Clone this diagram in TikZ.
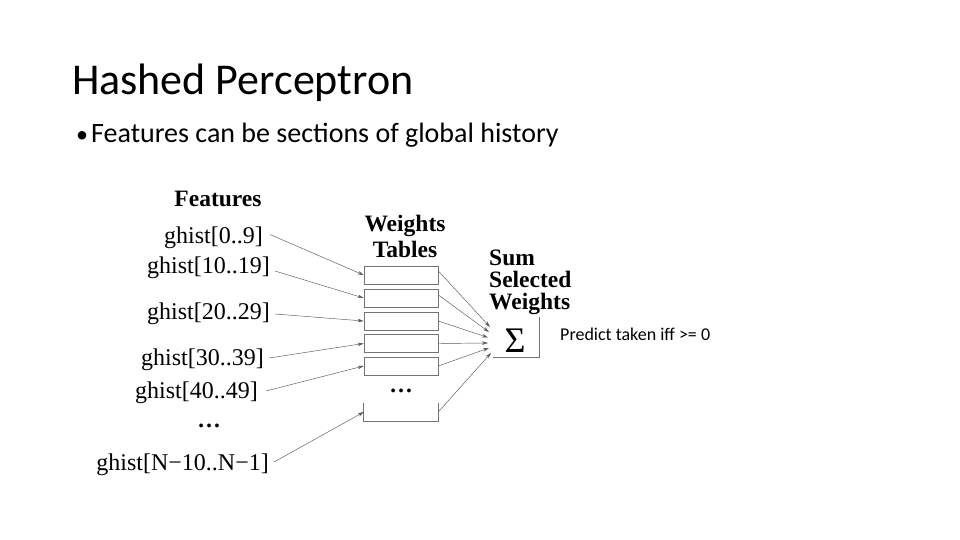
\documentclass[tikz,border=0pt]{standalone}
\usepackage{fontspec}
\setmainfont{Liberation Serif}
\newfontfamily\calib{Carlito}
\usetikzlibrary{arrows.meta}
\begin{document}
\begin{tikzpicture}[x=1pt,y=-1pt,
  lbl/.style={inner sep=0pt, font=\fontsize{24}{26}\selectfont},
  hdr/.style={inner sep=0pt, font=\fontsize{23.5}{26}\selectfont\bfseries},
  tbox/.style={draw=black!55, line width=0.7pt, minimum width=74pt, minimum height=18pt, inner sep=0pt},
  edge/.style={draw=black!55, line width=0.7pt},
  conn/.style={draw=black!65, line width=0.45pt, -{Stealth[length=6pt,width=3.5pt]}},
]
\useasboundingbox (0,0) rectangle (960,540);
\fill[white] (0,0) rectangle (960,540);

% title and bullet
\node[font=\calib\fontsize{44}{48}\selectfont, anchor=base west, inner sep=0pt] (title) at (72,95) {Hashed Perceptron};
\node[font=\calib\fontsize{24}{28}\selectfont, anchor=base west, inner sep=0pt] (bul) at (76,143) {•};
\node[font=\calib\fontsize{28}{32}\selectfont, anchor=base west, inner sep=0pt] (btxt) at (91,143) {Features can be sections of global history};

% features
\node[hdr] (feat) at (218,199) {Features};
\node[lbl, anchor=east] (f1) at (263,237.5) {ghist[0..9]};
\node[lbl, anchor=east] (f2) at (270,268) {ghist[10..19]};
\node[lbl, anchor=east] (f3) at (270,314) {ghist[20..29]};
\node[lbl, anchor=east] (f4) at (264,360) {ghist[30..39]};
\node[lbl, anchor=east] (f5) at (258,393) {ghist[40..49]};
\node[hdr] (fdots) at (209,426) {…};
\node[lbl, anchor=east] (f6) at (269,465) {ghist[N−10..N−1]};

% weights tables
\node[hdr, align=center, anchor=north] (wt) at (405,215) {Weights\\Tables};
\node[tbox] (b1) at (401,275) {};
\node[tbox] (b2) at (401,298) {};
\node[tbox] (b3) at (401,321) {};
\node[tbox] (b4) at (401,343.5) {};
\node[tbox] (b5) at (401,366) {};
\node[hdr] (tdots) at (401,391) {…};
\node[minimum width=74pt, minimum height=18pt, inner sep=0pt] (b6) at (401,412) {};
\draw[edge] (b6.north west) -- (b6.south west) -- (b6.south east) -- (b6.north east);

% sum
\node[hdr, font=\fontsize{23.5}{22}\selectfont\bfseries, align=left, anchor=north west] (sum) at (489,250) {Sum\\Selected\\Weights};
\node[minimum width=46pt, minimum height=40pt, inner sep=0pt] (sig) at (516,337) {};
\draw[edge] (sig.north east) -- (sig.south east) -- (sig.south west);
\node[inner sep=0pt, font=\fontsize{36}{38}\selectfont] (sg) at (515,341) {Σ};

\node[font=\calib\fontsize{18}{21}\selectfont, anchor=base west, inner sep=0pt] (pred) at (560,340) {Predict taken iff >= 0};

% feature -> table
\draw[conn] ([xshift=7pt,yshift=3pt]f1.east) -- (b1.west);
\draw[conn] ([xshift=5pt,yshift=-3pt]f2.east) -- (b2.west);
\draw[conn] ([xshift=5pt]f3.east) -- (b3.west);
\draw[conn] ([xshift=5pt,yshift=2pt]f4.east) -- (b4.west);
\draw[conn] ([xshift=8pt,yshift=2pt]f5.east) -- (b5.west);
\draw[conn] ([xshift=5pt,yshift=3pt]f6.east) -- (b6.west);

% table -> sum
\coordinate (e1) at (490,327);
\coordinate (e2) at (489,332);
\coordinate (e3) at (488,337.5);
\coordinate (e4) at (488,343);
\coordinate (e5) at (489,348);
\coordinate (e6) at (491,353);
\draw[conn] ([yshift=4pt]b1.east) -- (e1);
\draw[conn] ([yshift=3pt]b2.east) -- (e2);
\draw[conn] (b3.east) -- (e3);
\draw[conn] (b4.east) -- (e4);
\draw[conn] (b5.east) -- (e5);
\draw[conn] (b6.east) -- (e6);
\end{tikzpicture}
\end{document}
